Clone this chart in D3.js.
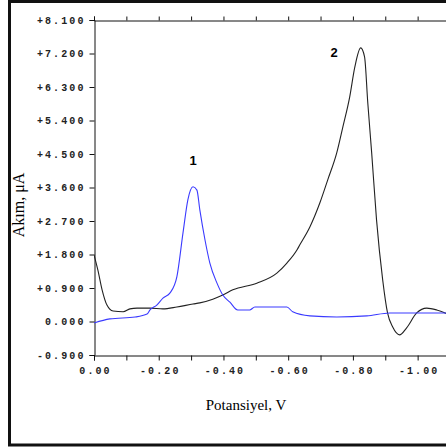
<!DOCTYPE html>
<html>
<head>
<meta charset="utf-8">
<script src="https://cdn.jsdelivr.net/npm/d3@7"></script>
<style>
  body { margin: 0; background: #fff; }
  .tick text { font-family: "Liberation Mono", monospace; font-weight: bold; font-size: 10px; letter-spacing: 2.1px; fill: #222; }
</style>
</head>
<body>
<div id="chart"></div>
<script>
// Voltammogram data
var potential1 = [0, -0.049, -0.127, -0.164, -0.173, -0.194, -0.213, -0.235, -0.256, -0.275, -0.29, -0.306, -0.318, -0.327, -0.343, -0.358, -0.38, -0.398, -0.42, -0.444, -0.481, -0.497, -0.596, -0.614, -0.667, -0.75, -0.843, -0.914, -1.1];
var current1 = [-0.04, 0.07, 0.12, 0.2, 0.31, 0.44, 0.63, 0.77, 1.2, 2.38, 3.27, 3.62, 3.53, 3.0, 2.19, 1.57, 1.03, 0.71, 0.52, 0.31, 0.31, 0.39, 0.39, 0.26, 0.15, 0.12, 0.15, 0.23, 0.23];

var potential2 = [0, -0.012, -0.025, -0.04, -0.059, -0.09, -0.111, -0.133, -0.173, -0.213, -0.256, -0.306, -0.327, -0.367, -0.398, -0.429, -0.503, -0.565, -0.596, -0.627, -0.636, -0.667, -0.698, -0.722, -0.75, -0.769, -0.79, -0.806, -0.824, -0.836, -0.846, -0.858, -0.873, -0.892, -0.907, -0.923, -0.944, -0.966, -0.997, -1.028, -1.059, -1.1];
var current2 = [1.79, 1.38, 0.85, 0.44, 0.28, 0.26, 0.34, 0.36, 0.36, 0.34, 0.39, 0.47, 0.5, 0.6, 0.71, 0.85, 1.03, 1.3, 1.57, 1.92, 2.06, 2.54, 3.19, 3.8, 4.53, 5.23, 6.03, 6.84, 7.35, 7.11, 5.87, 4.53, 2.73, 1.12, 0.23, -0.15, -0.36, -0.17, 0.23, 0.36, 0.31, 0.17];

var yTicks = [-0.9, 0, 0.9, 1.8, 2.7, 3.6, 4.5, 5.4, 6.3, 7.2, 8.1];
var xTicks = [0, -0.1, -0.2, -0.3, -0.4, -0.5, -0.6, -0.7, -0.8, -0.9, -1.0, -1.1];

var W = 446, H = 447;

var svg = d3.select("#chart").append("svg")
  .attr("width", W)
  .attr("height", H);

// outer frame
svg.append("rect")
  .attr("x", 9.5).attr("y", 1.5)
  .attr("width", 520).attr("height", 443.5)
  .attr("fill", "none")
  .attr("stroke", "#111")
  .attr("stroke-width", 3);

var x = d3.scaleLinear().domain([0, -1.1]).range([94, 450]);
var y = d3.scaleLinear().domain([-0.9, 8.1]).range([355, 20]);

function fmtY(d) {
  var s = Math.abs(d).toFixed(3);
  if (d > 0) return "+" + s;
  if (d < 0) return "-" + s;
  return s;
}

// left axis
var yAxis = svg.append("g")
  .attr("transform", "translate(94.5,0)")
  .call(d3.axisLeft(y).tickValues(yTicks).tickSize(5).tickPadding(4).tickFormat(fmtY));

// bottom axis
var xAxis = svg.append("g")
  .attr("transform", "translate(0,355.5)")
  .call(d3.axisBottom(x).tickValues(xTicks).tickSize(5).tickPadding(6)
    .tickFormat(function(d, i) { return i % 2 === 0 ? d.toFixed(2) : ""; }));
xAxis.selectAll(".tick text").attr("dx", "1px");

// top axis, ticks only
svg.append("g")
  .attr("transform", "translate(0,20.5)")
  .call(d3.axisTop(x).tickValues(xTicks).tickSize(4).tickFormat(""));

svg.selectAll(".domain").attr("stroke", "#111");
svg.selectAll(".tick line").attr("stroke", "#111");

var line = d3.line()
  .x(d => x(d[0]))
  .y(d => y(d[1]))
  .curve(d3.curveMonotoneX);

svg.append("clipPath").attr("id", "plot")
  .append("rect").attr("x", 94).attr("y", 20).attr("width", 360).attr("height", 335);

svg.append("path")
  .datum(potential2.map((p, i) => [p, current2[i]]))
  .attr("clip-path", "url(#plot)")
  .attr("d", line)
  .attr("fill", "none")
  .attr("stroke", "#222")
  .attr("stroke-width", 1.1);

svg.append("path")
  .datum(potential1.map((p, i) => [p, current1[i]]))
  .attr("clip-path", "url(#plot)")
  .attr("d", line)
  .attr("fill", "none")
  .attr("stroke", "#3a3aff")
  .attr("stroke-width", 1.1);

// peak labels
svg.append("text")
  .attr("x", 193).attr("y", 165)
  .attr("text-anchor", "middle")
  .attr("font-family", "Liberation Sans, Arial, sans-serif")
  .attr("font-weight", "bold")
  .attr("font-size", "13px")
  .text("1");

svg.append("text")
  .attr("x", 334).attr("y", 57)
  .attr("text-anchor", "middle")
  .attr("font-family", "Liberation Sans, Arial, sans-serif")
  .attr("font-weight", "bold")
  .attr("font-size", "13px")
  .text("2");

// axis titles
svg.append("text")
  .attr("x", 246).attr("y", 410)
  .attr("text-anchor", "middle")
  .attr("font-family", "Liberation Serif, Times New Roman, serif")
  .attr("font-size", "15px")
  .text("Potansiyel, V");

svg.append("text")
  .attr("transform", "translate(24,205) rotate(-90)")
  .attr("text-anchor", "middle")
  .attr("font-family", "Liberation Serif, Times New Roman, serif")
  .attr("font-size", "16px")
  .text("Akım, μA");
</script>
</body>
</html>
